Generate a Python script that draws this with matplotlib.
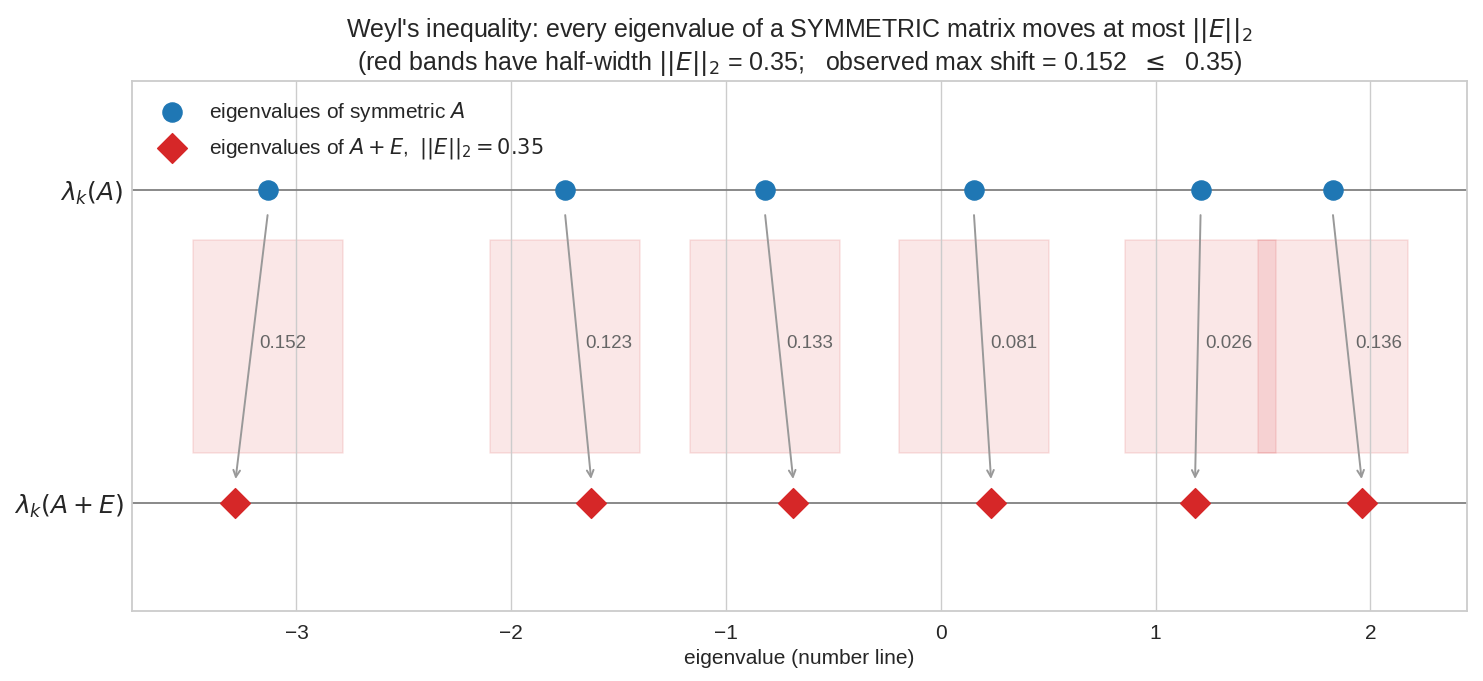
import matplotlib.pyplot as plt
import seaborn as sns

# eigenvalues
lam_A = [-3.133, -1.750, -0.819, 0.154, 1.210, 1.825]
lam_AE = [-3.285, -1.627, -0.686, 0.235, 1.184, 1.961]
shifts = ["0.152", "0.123", "0.133", "0.081", "0.026", "0.136"]
norm_E = 0.35

sns.set_theme(style="whitegrid")
plt.rcParams['font.family'] = ['Liberation Sans', 'DejaVu Sans']

fig, ax = plt.subplots(figsize=(14.83, 6.81), dpi=100)
fig.subplots_adjust(left=0.089, right=0.989, top=0.881, bottom=0.103)

ax.axhline(1, color="gray", lw=1.3, zorder=1)
ax.axhline(0, color="gray", lw=1.3, zorder=1)

for a in lam_A:
    ax.fill_betweenx([0.16, 0.84], a - norm_E, a + norm_E,
                     facecolor="tab:red", alpha=0.11, edgecolor="tab:red", lw=1.2, zorder=0)

for a, b, s in zip(lam_A, lam_AE, shifts):
    ax.annotate("", xy=(b, 0.068), xytext=(a, 0.93),
                arrowprops=dict(arrowstyle="->", color="#999999", lw=1.4))
    ax.text((a + b) / 2 + 0.035, 0.51, s, color="#666666", fontsize=13.5,
            ha="left", va="center")

ax.scatter(lam_A, [1] * len(lam_A), s=190, color="#1f77b4", zorder=3,
           label="eigenvalues of symmetric $A$")
ax.scatter(lam_AE, [0] * len(lam_AE), s=230, marker="D", color="#d62728", zorder=3,
           label="eigenvalues of $A+E$,  $||E||_2 = 0.35$")

ax.set_xlim(-3.766, 2.449)
ax.set_ylim(-0.345, 1.35)
ax.set_yticks([0, 1])
ax.set_yticklabels([r"$\lambda_k(A+E)$", r"$\lambda_k(A)$"], fontsize=18)
ax.tick_params(axis="x", labelsize=15)
ax.tick_params(axis="y", pad=0)
ax.grid(axis="y", visible=False)
for sp in ax.spines.values():
    sp.set_color("#cccccc")
    sp.set_linewidth(1.3)

ax.set_xlabel("eigenvalue (number line)", fontsize=15)
ax.set_title("Weyl's inequality: every eigenvalue of a SYMMETRIC matrix moves at most $||E||_2$\n"
             "(red bands have half-width $||E||_2$ = 0.35;   observed max shift = 0.152  $\\leq$  0.35)",
             fontsize=18, pad=8)
ax.legend(loc="upper left", fontsize=15, frameon=False, borderpad=0.4, handletextpad=0.8,
          labelspacing=0.6)

plt.savefig("out.png")
